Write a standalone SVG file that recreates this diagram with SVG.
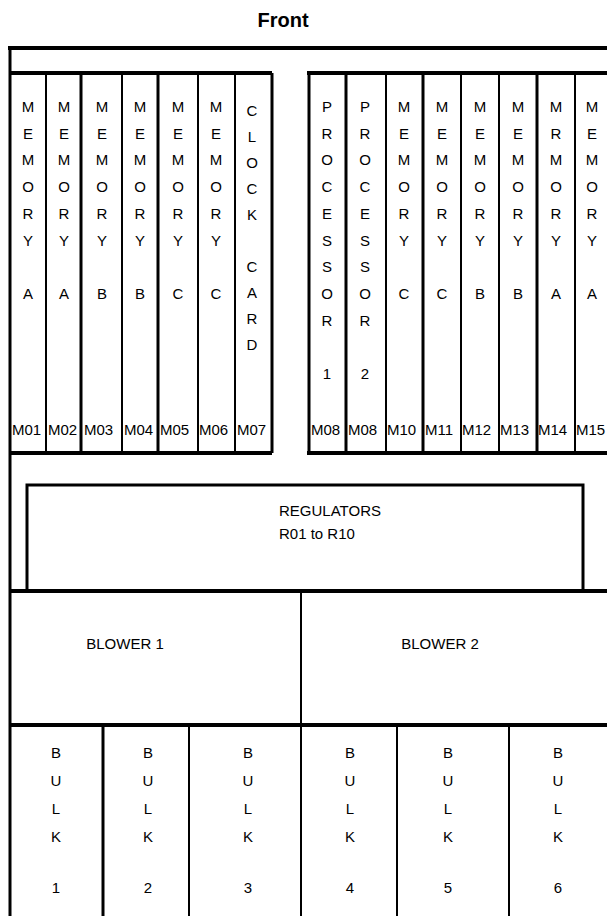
<svg xmlns="http://www.w3.org/2000/svg" width="607" height="916" viewBox="0 0 607 916">
<style>
text{font-family:"Liberation Sans",Arial,sans-serif;font-size:15px;fill:#000}
.t{font-weight:bold;font-size:20px}
.c{text-anchor:middle}
.thick{stroke:#000;stroke-width:4;fill:none}
.mid{stroke:#000;stroke-width:3;fill:none}
.thin{stroke:#000;stroke-width:2;fill:none}
</style>
<rect width="607" height="916" fill="#fff"/>
<text class="t c" x="283" y="27">Front</text>
<g id="frame">
<line class="thick" x1="8" y1="48" x2="607" y2="48"/>
<line class="mid" x1="10" y1="48" x2="10" y2="916"/>
</g>
<g id="left-cards">
<line class="thick" x1="10" y1="73" x2="272" y2="73"/>
<line class="thick" x1="10" y1="453" x2="272" y2="453"/>
<line class="thin" x1="46" y1="73" x2="46" y2="453"/>
<line class="mid" x1="81" y1="73" x2="81" y2="453"/>
<line class="thin" x1="122" y1="73" x2="122" y2="453"/>
<line class="mid" x1="158" y1="73" x2="158" y2="453"/>
<line class="thin" x1="198" y1="73" x2="198" y2="453"/>
<line class="thin" x1="235" y1="73" x2="235" y2="453"/>
<line class="mid" x1="272" y1="73" x2="272" y2="453"/>
</g>
<g id="right-cards">
<line class="thick" x1="307" y1="73" x2="607" y2="73"/>
<line class="thick" x1="307" y1="453" x2="607" y2="453"/>
<line class="mid" x1="309" y1="73" x2="309" y2="453"/>
<line class="mid" x1="346" y1="73" x2="346" y2="453"/>
<line class="thin" x1="386" y1="73" x2="386" y2="453"/>
<line class="mid" x1="423" y1="73" x2="423" y2="453"/>
<line class="thin" x1="461" y1="73" x2="461" y2="453"/>
<line class="thin" x1="499" y1="73" x2="499" y2="453"/>
<line class="mid" x1="537" y1="73" x2="537" y2="453"/>
<line class="thin" x1="575" y1="73" x2="575" y2="453"/>
</g>
<g id="M01"><text class="c" x="28"><tspan x="28" y="112">M</tspan><tspan x="28" y="138.7">E</tspan><tspan x="28" y="165.4">M</tspan><tspan x="28" y="192.1">O</tspan><tspan x="28" y="218.8">R</tspan><tspan x="28" y="245.5">Y</tspan><tspan x="28" y="298.9">A</tspan></text><text x="12" y="435">M01</text></g>
<g id="M02"><text class="c"><tspan x="64" y="112">M</tspan><tspan x="64" y="138.7">E</tspan><tspan x="64" y="165.4">M</tspan><tspan x="64" y="192.1">O</tspan><tspan x="64" y="218.8">R</tspan><tspan x="64" y="245.5">Y</tspan><tspan x="64" y="298.9">A</tspan></text><text x="48" y="435">M02</text></g>
<g id="M03"><text class="c"><tspan x="102" y="112">M</tspan><tspan x="102" y="138.7">E</tspan><tspan x="102" y="165.4">M</tspan><tspan x="102" y="192.1">O</tspan><tspan x="102" y="218.8">R</tspan><tspan x="102" y="245.5">Y</tspan><tspan x="102" y="298.9">B</tspan></text><text x="84" y="435">M03</text></g>
<g id="M04"><text class="c"><tspan x="140" y="112">M</tspan><tspan x="140" y="138.7">E</tspan><tspan x="140" y="165.4">M</tspan><tspan x="140" y="192.1">O</tspan><tspan x="140" y="218.8">R</tspan><tspan x="140" y="245.5">Y</tspan><tspan x="140" y="298.9">B</tspan></text><text x="124" y="435">M04</text></g>
<g id="M05"><text class="c"><tspan x="178" y="112">M</tspan><tspan x="178" y="138.7">E</tspan><tspan x="178" y="165.4">M</tspan><tspan x="178" y="192.1">O</tspan><tspan x="178" y="218.8">R</tspan><tspan x="178" y="245.5">Y</tspan><tspan x="178" y="298.9">C</tspan></text><text x="160" y="435">M05</text></g>
<g id="M06"><text class="c"><tspan x="216" y="112">M</tspan><tspan x="216" y="138.7">E</tspan><tspan x="216" y="165.4">M</tspan><tspan x="216" y="192.1">O</tspan><tspan x="216" y="218.8">R</tspan><tspan x="216" y="245.5">Y</tspan><tspan x="216" y="298.9">C</tspan></text><text x="199" y="435">M06</text></g>
<g id="M07"><text class="c"><tspan x="252" y="116">C</tspan><tspan x="252" y="142">L</tspan><tspan x="252" y="168">O</tspan><tspan x="252" y="194">C</tspan><tspan x="252" y="220">K</tspan><tspan x="252" y="272">C</tspan><tspan x="252" y="298">A</tspan><tspan x="252" y="324">R</tspan><tspan x="252" y="350">D</tspan></text><text x="237" y="435">M07</text></g>
<g id="M08a"><text class="c"><tspan x="327" y="112">P</tspan><tspan x="327" y="138.7">R</tspan><tspan x="327" y="165.4">O</tspan><tspan x="327" y="192.1">C</tspan><tspan x="327" y="218.8">E</tspan><tspan x="327" y="245.5">S</tspan><tspan x="327" y="272.2">S</tspan><tspan x="327" y="298.9">O</tspan><tspan x="327" y="325.6">R</tspan><tspan x="327" y="379">1</tspan></text><text x="311" y="435">M08</text></g>
<g id="M08b"><text class="c"><tspan x="365" y="112">P</tspan><tspan x="365" y="138.7">R</tspan><tspan x="365" y="165.4">O</tspan><tspan x="365" y="192.1">C</tspan><tspan x="365" y="218.8">E</tspan><tspan x="365" y="245.5">S</tspan><tspan x="365" y="272.2">S</tspan><tspan x="365" y="298.9">O</tspan><tspan x="365" y="325.6">R</tspan><tspan x="365" y="379">2</tspan></text><text x="348" y="435">M08</text></g>
<g id="M10"><text class="c"><tspan x="404" y="112">M</tspan><tspan x="404" y="138.7">E</tspan><tspan x="404" y="165.4">M</tspan><tspan x="404" y="192.1">O</tspan><tspan x="404" y="218.8">R</tspan><tspan x="404" y="245.5">Y</tspan><tspan x="404" y="298.9">C</tspan></text><text x="387" y="435">M10</text></g>
<g id="M11"><text class="c"><tspan x="442" y="112">M</tspan><tspan x="442" y="138.7">E</tspan><tspan x="442" y="165.4">M</tspan><tspan x="442" y="192.1">O</tspan><tspan x="442" y="218.8">R</tspan><tspan x="442" y="245.5">Y</tspan><tspan x="442" y="298.9">C</tspan></text><text x="425" y="435">M11</text></g>
<g id="M12"><text class="c"><tspan x="480" y="112">M</tspan><tspan x="480" y="138.7">E</tspan><tspan x="480" y="165.4">M</tspan><tspan x="480" y="192.1">O</tspan><tspan x="480" y="218.8">R</tspan><tspan x="480" y="245.5">Y</tspan><tspan x="480" y="298.9">B</tspan></text><text x="462" y="435">M12</text></g>
<g id="M13"><text class="c"><tspan x="518" y="112">M</tspan><tspan x="518" y="138.7">E</tspan><tspan x="518" y="165.4">M</tspan><tspan x="518" y="192.1">O</tspan><tspan x="518" y="218.8">R</tspan><tspan x="518" y="245.5">Y</tspan><tspan x="518" y="298.9">B</tspan></text><text x="500" y="435">M13</text></g>
<g id="M14"><text class="c"><tspan x="556" y="112">M</tspan><tspan x="556" y="138.7">R</tspan><tspan x="556" y="165.4">M</tspan><tspan x="556" y="192.1">O</tspan><tspan x="556" y="218.8">R</tspan><tspan x="556" y="245.5">Y</tspan><tspan x="556" y="298.9">A</tspan></text><text x="538" y="435">M14</text></g>
<g id="M15"><text class="c"><tspan x="592" y="112">M</tspan><tspan x="592" y="138.7">E</tspan><tspan x="592" y="165.4">M</tspan><tspan x="592" y="192.1">O</tspan><tspan x="592" y="218.8">R</tspan><tspan x="592" y="245.5">Y</tspan><tspan x="592" y="298.9">A</tspan></text><text x="576" y="435">M15</text></g>
<g id="regulators">
<rect class="mid" x="27" y="485" width="556" height="106"/>
<text x="279" y="516">REGULATORS</text>
<text x="279" y="539">R01 to R10</text>
</g>
<g id="blowers">
<line class="thick" x1="10" y1="591" x2="607" y2="591"/>
<line class="thin" x1="301" y1="591" x2="301" y2="725"/>
<text class="c" x="125" y="649">BLOWER 1</text>
<text class="c" x="440" y="649">BLOWER 2</text>
</g>
<g id="bulk">
<line class="thick" x1="10" y1="725" x2="607" y2="725"/>
<line class="mid" x1="103" y1="725" x2="103" y2="916"/>
<line class="thin" x1="189" y1="725" x2="189" y2="916"/>
<line class="thin" x1="301" y1="725" x2="301" y2="916"/>
<line class="thin" x1="397" y1="725" x2="397" y2="916"/>
<line class="thin" x1="509" y1="725" x2="509" y2="916"/>
<text class="c"><tspan x="56" y="758">B</tspan><tspan x="56" y="786">U</tspan><tspan x="56" y="814">L</tspan><tspan x="56" y="842">K</tspan><tspan x="56" y="893">1</tspan></text>
<text class="c"><tspan x="148" y="758">B</tspan><tspan x="148" y="786">U</tspan><tspan x="148" y="814">L</tspan><tspan x="148" y="842">K</tspan><tspan x="148" y="893">2</tspan></text>
<text class="c"><tspan x="248" y="758">B</tspan><tspan x="248" y="786">U</tspan><tspan x="248" y="814">L</tspan><tspan x="248" y="842">K</tspan><tspan x="248" y="893">3</tspan></text>
<text class="c"><tspan x="350" y="758">B</tspan><tspan x="350" y="786">U</tspan><tspan x="350" y="814">L</tspan><tspan x="350" y="842">K</tspan><tspan x="350" y="893">4</tspan></text>
<text class="c"><tspan x="448" y="758">B</tspan><tspan x="448" y="786">U</tspan><tspan x="448" y="814">L</tspan><tspan x="448" y="842">K</tspan><tspan x="448" y="893">5</tspan></text>
<text class="c"><tspan x="558" y="758">B</tspan><tspan x="558" y="786">U</tspan><tspan x="558" y="814">L</tspan><tspan x="558" y="842">K</tspan><tspan x="558" y="893">6</tspan></text>
</g>
</svg>
